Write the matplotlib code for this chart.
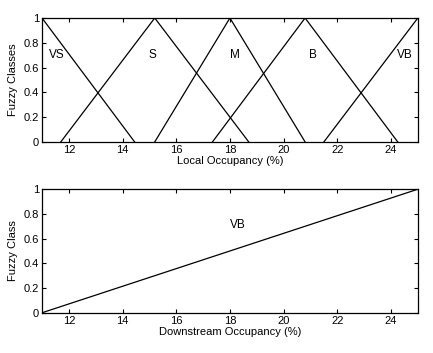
import numpy as np
import matplotlib.pyplot as plt

plt.rcParams['font.family'] = ['Liberation Sans', 'DejaVu Sans']
plt.rcParams['font.size'] = 8

# fuzzy classes of local occupancy: (start, peak, end) of each triangle
classes = ['VS', 'S', 'M', 'B', 'VB']
starts = [11.0, 11.7, 15.2, 17.35, 21.5]
peaks = [11.0, 15.2, 18.0, 20.8, 25.0]
ends = [14.45, 18.7, 20.8, 24.25, 25.0]
label_x = [11.55, 15.1, 18.2, 21.1, 24.5]
label_y = [0.7, 0.7, 0.7, 0.7, 0.7]

# downstream occupancy, single class
down_x = [11.0, 25.0]
down_y = [0.0, 1.0]

xticks = [12, 14, 16, 18, 20, 22, 24]
yticks = [0, 0.2, 0.4, 0.6, 0.8, 1]
yticklabels = ['0', '0.2', '0.4', '0.6', '0.8', '1']


def style(ax):
    ax.set_xlim(11, 25)
    ax.set_ylim(0, 1)
    ax.set_xticks(xticks)
    ax.set_yticks(yticks)
    ax.set_yticklabels(yticklabels)
    ax.tick_params(direction='in', top=True, right=True, length=3, width=0.8, pad=2)
    for s in ax.spines.values():
        s.set_linewidth(0.9)


fig = plt.figure(figsize=(4.33, 3.53), dpi=100)

ax1 = fig.add_axes([0.097, 0.598, 0.868, 0.351])
for name, a, p, b, lx, ly in zip(classes, starts, peaks, ends, label_x, label_y):
    xs = [a, p, b]
    ys = [0 if a < p else 1, 1, 0 if b > p else 1]
    ax1.plot(xs, ys, color='black', lw=0.9)
    ax1.text(lx, ly, name, ha='center', va='center', fontsize=8.5)
style(ax1)
ax1.set_xlabel('Local Occupancy (%)', labelpad=1)
ax1.set_ylabel('Fuzzy Classes', labelpad=4)

ax2 = fig.add_axes([0.097, 0.114, 0.868, 0.350])
ax2.plot(down_x, down_y, color='black', lw=0.9)
ax2.text(18.3, 0.71, 'VB', ha='center', va='center', fontsize=8.5)
style(ax2)
ax2.set_xlabel('Downstream Occupancy (%)', labelpad=1)
ax2.set_ylabel('Fuzzy Class', labelpad=4)

fig.savefig('out.png', dpi=100)
